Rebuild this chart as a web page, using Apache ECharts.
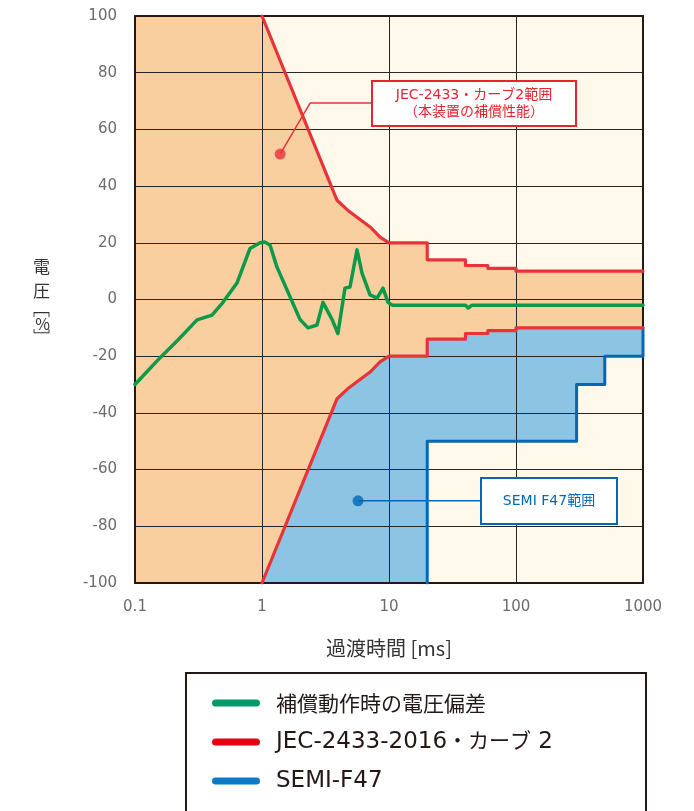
<!DOCTYPE html>
<html>
<head>
<meta charset="utf-8">
<script src="https://cdn.jsdelivr.net/npm/echarts@6/dist/echarts.min.js"></script>
<style>
  html, body { margin: 0; padding: 0; background: #ffffff; }
  #chart { width: 694px; height: 811px; }
</style>
</head>
<body>
<div id="chart"></div>
<script>
// Transient time [ms] and voltage deviation [%]

// Voltage deviation while compensating (green trace)
const compT = [0.1, 0.157, 0.218, 0.308, 0.404, 0.493, 0.635, 0.805, 0.964, 1.05, 1.156, 1.31, 1.66, 1.99, 2.30, 2.71, 3.02, 3.56, 3.96, 4.50, 4.93, 5.60, 6.13, 7.09, 8.05, 8.97, 9.82, 10.6, 40, 42, 45, 1000];
const compV = [-30, -20.6, -14.3, -7.2, -5.5, -1, 5.8, 18, 20, 20.3, 19.2, 11.5, 1, -7, -10, -9, -1, -7, -12, 4, 4.4, 17.5, 9.3, 1.6, 0.5, 4, -1, -2, -2, -3, -2, -2];

// JEC-2433-2016 curve 2, upper and lower limits
const jecUpperT = [1, 3.9, 4.7, 5.6, 7.1, 8.5, 10, 20, 20, 40, 40, 60, 60, 100, 100, 1000];
const jecUpperV = [100, 35, 31.6, 29, 25.6, 22, 20, 20, 14, 14, 12, 12, 11, 11, 10, 10];
const jecLowerT = [1, 3.9, 4.7, 5.6, 7.1, 8.5, 10, 20, 20, 40, 40, 60, 60, 100, 100, 1000];
const jecLowerV = [-100, -35, -31.6, -29, -25.6, -22, -20, -20, -14, -14, -12, -12, -11, -11, -10, -10];

// SEMI F47 limit
const semiT = [20, 20, 300, 300, 500, 500, 1000, 1000];
const semiV = [-100, -50, -50, -30, -30, -20, -20, -10];

// Axis ticks
const xTicks = [0.1, 1, 10, 100, 1000];
const yTicks = [-100, -80, -60, -40, -20, 0, 20, 40, 60, 80, 100];

// Callout anchors: dot, bend, box edge
const jecNoteT = [1.39, 2.39, 7.35];
const jecNoteV = [51.3, 69.3, 69.3];
const semiNoteT = [5.7, 53];
const semiNoteV = [-71, -71];
// Callout texts (rich runs: l = Latin, j = Japanese)
const jecNoteText = ['{l|JEC-2433}{j|・カーブ}{l|2}{j|範囲}', '{j|（本装置の補償性能）}'];
const semiNoteText = ['{l|SEMI F47}{j|範囲}'];

const NAME_COMP = '補償動作時の電圧偏差';
const NAME_JEC = 'JEC-2433-2016・カーブ 2';
const NAME_SEMI = 'SEMI-F47';

const pairs = (t, v) => t.map((x, i) => [x, v[i]]);

const RED = '#e8333a';
const BLUE = '#0068b7';
const GREEN = '#0b9a4a';
const ORANGE_FILL = '#f9cf9f';
const BLUE_FILL = '#8dc4e4';
const CREAM = '#fef9eb';
const JP = '"Noto Sans CJK JP", "Noto Sans", sans-serif';
const LATIN = '"DejaVu Sans", sans-serif';

const chart = echarts.init(document.getElementById('chart'), null, { renderer: 'canvas' });

const fillSeries = (data, color) => ({
  type: 'line', data, z: 1, silent: true, showSymbol: false, symbol: 'none',
  lineStyle: { width: 0 }, areaStyle: { color, opacity: 1, origin: 'start' },
  xAxisIndex: 0, yAxisIndex: 0
});

const lineSeries = (name, data, color, width) => ({
  name, type: 'line', data, z: 3, silent: true, showSymbol: false, symbol: 'none',
  lineStyle: { color, width, join: 'round', cap: 'round' }, itemStyle: { color },
  xAxisIndex: 0, yAxisIndex: 0
});

// Legend labels: Latin runs in a wide sans, Japanese runs in CJK
const legendLabel = {
  [NAME_COMP]: '{j|補償動作時の電圧偏差}',
  [NAME_JEC]: '{l|JEC-2433-2016}{k|・カーブ}{l| 2}',
  [NAME_SEMI]: '{l|SEMI-F47}'
};

const option = {
  animation: false,
  backgroundColor: '#ffffff',
  grid: {
    left: 135, right: 51, top: 16, bottom: 228,
    show: true, backgroundColor: CREAM, borderWidth: 0
  },
  xAxis: [{
    type: 'log', logBase: 10, min: xTicks[0], max: xTicks[xTicks.length - 1],
    position: 'bottom', z: 2,
    axisLine: { show: true, onZero: false, lineStyle: { color: '#231815', width: 2 } },
    axisTick: { show: false },
    splitLine: { show: true, lineStyle: { color: '#262626', width: 1 } },
    axisLabel: {
      margin: 17, color: '#6b6b6b', fontSize: 15, fontFamily: LATIN,
      formatter: v => String(+(+v).toPrecision(3))
    },
    name: '過渡時間 [ms]', nameLocation: 'middle', nameGap: 55,
    nameTextStyle: { fontFamily: JP, fontSize: 20, color: '#333333' }
  }, {
    type: 'log', logBase: 10, min: xTicks[0], max: xTicks[xTicks.length - 1],
    position: 'top', z: 2,
    axisLine: { show: true, onZero: false, lineStyle: { color: '#231815', width: 2 } },
    axisTick: { show: false }, axisLabel: { show: false }, splitLine: { show: false }
  }],
  yAxis: [{
    type: 'value', min: yTicks[0], max: yTicks[yTicks.length - 1], interval: 20,
    position: 'left', z: 2,
    axisLine: { show: true, onZero: false, lineStyle: { color: '#231815', width: 2 } },
    axisTick: { show: false },
    splitLine: { show: true, lineStyle: { color: '#262626', width: 1 } },
    axisLabel: { margin: 18, color: '#6b6b6b', fontSize: 15, fontFamily: LATIN },
    name: '{a|電}\n{a|圧}\n{b|﹇}\n{c|%}\n{b|﹈}',
    nameLocation: 'middle', nameRotate: 0, nameGap: 85,
    nameTextStyle: {
      color: '#333333',
      rich: {
        a: { fontFamily: JP, fontSize: 17, lineHeight: 24, color: '#333333' },
        b: { fontFamily: JP, fontSize: 17, lineHeight: 13, color: '#333333' },
        c: { fontFamily: JP, fontSize: 16, lineHeight: 16, color: '#333333' }
      }
    }
  }, {
    type: 'value', min: yTicks[0], max: yTicks[yTicks.length - 1], interval: 20,
    position: 'right', z: 2,
    axisLine: { show: true, onZero: false, lineStyle: { color: '#231815', width: 2 } },
    axisTick: { show: false }, axisLabel: { show: false }, splitLine: { show: false }
  }],
  legend: {
    orient: 'vertical', left: 212, top: 691, padding: 0,
    itemWidth: 48, itemHeight: 7, itemGap: 14.5,
    icon: 'path://M3.5,0 H44.5 A3.5,3.5 0 0 1 44.5,7 H3.5 A3.5,3.5 0 0 1 3.5,0 Z',
    selectedMode: false,
    formatter: name => legendLabel[name] || name,
    textStyle: {
      color: '#231815', lineHeight: 24, padding: [0, 0, 0, 11],
      rich: {
        j: { fontFamily: JP, fontSize: 21, color: '#231815', lineHeight: 24 },
        // Japanese run placed between Latin runs, lifted onto their baseline
        k: { fontFamily: JP, fontSize: 21, color: '#231815', lineHeight: 24, padding: [0, 0, 4, 0] },
        l: { fontFamily: LATIN, fontSize: 23, color: '#231815', lineHeight: 24 }
      }
    },
    data: [
      { name: NAME_COMP, itemStyle: { color: '#00996b' } },
      { name: NAME_JEC, itemStyle: { color: '#e60012' } },
      { name: NAME_SEMI, itemStyle: { color: '#0a7cc6' } }
    ]
  },
  series: [
    // Shaded regions
    fillSeries([[jecUpperT[0] / 10, jecUpperV[0]]].concat(pairs(jecUpperT, jecUpperV)), ORANGE_FILL),
    fillSeries(pairs(jecLowerT, jecLowerV), BLUE_FILL),
    fillSeries(pairs(semiT, semiV), CREAM),

    // Limit curves and measured trace
    lineSeries(NAME_SEMI, pairs(semiT, semiV), BLUE, 3),
    lineSeries(NAME_JEC, pairs(jecUpperT, jecUpperV), RED, 3.2),
    lineSeries(NAME_JEC, pairs(jecLowerT, jecLowerV), RED, 3.2),
    lineSeries(NAME_COMP, pairs(compT, compV), GREEN, 3.5),

    // Callout leaders and dots
    {
      type: 'line', data: pairs(jecNoteT, jecNoteV), z: 4, silent: true,
      symbol: 'none', lineStyle: { color: RED, width: 1.5 }
    },
    {
      type: 'scatter', z: 5, silent: true, symbolSize: 11,
      itemStyle: { color: RED }, data: [[jecNoteT[0], jecNoteV[0]]]
    },
    {
      type: 'line', data: pairs(semiNoteT, semiNoteV), z: 4, silent: true,
      symbol: 'none', lineStyle: { color: BLUE, width: 1.5 }
    },
    {
      type: 'scatter', z: 5, silent: true, symbolSize: 11,
      itemStyle: { color: BLUE }, data: [[semiNoteT[0], semiNoteV[0]]]
    }
  ]
};

chart.setOption(option);

// Callout boxes at the end of each leader, snapped to whole pixels
function calloutBox(key, t, v, w, h, color, lines) {
  const p = chart.convertToPixel({ xAxisIndex: 0, yAxisIndex: 0 }, [t, v]);
  const x = Math.round(p[0]);
  const y = Math.round(p[1] - h / 2);
  const lh = 17;
  const first = y + h / 2 - ((lines.length - 1) * lh) / 2;
  const els = [{
    id: key + '-box', type: 'rect', z: 20, silent: true,
    shape: { x, y, width: w, height: h },
    style: { fill: '#ffffff', stroke: color, lineWidth: 2 }
  }];
  lines.forEach((s, i) => els.push({
    id: key + '-text' + i, type: 'text', z: 21, silent: true,
    style: {
      x: x + w / 2, y: first + i * lh, text: s,
      fill: color, textAlign: 'center', textVerticalAlign: 'middle',
      rich: {
        l: { fontFamily: LATIN, fontSize: 14, fill: color, lineHeight: 17 },
        j: { fontFamily: JP, fontSize: 14, fill: color, lineHeight: 17, padding: [0, 0, 2, 0] }
      }
    }
  }));
  return els;
}

chart.setOption({
  graphic: [].concat(
    calloutBox('jec', jecNoteT[2], jecNoteV[2], 204, 45, '#e6242d', jecNoteText),
    calloutBox('semi', semiNoteT[1], semiNoteV[1], 136, 46, BLUE, semiNoteText),
    [{
      id: 'legend-frame', type: 'rect', z: 20, silent: true,
      shape: { x: 186, y: 673, width: 460, height: 200 },
      style: { fill: 'none', stroke: '#231815', lineWidth: 2 }
    }]
  )
});
</script>
</body>
</html>
